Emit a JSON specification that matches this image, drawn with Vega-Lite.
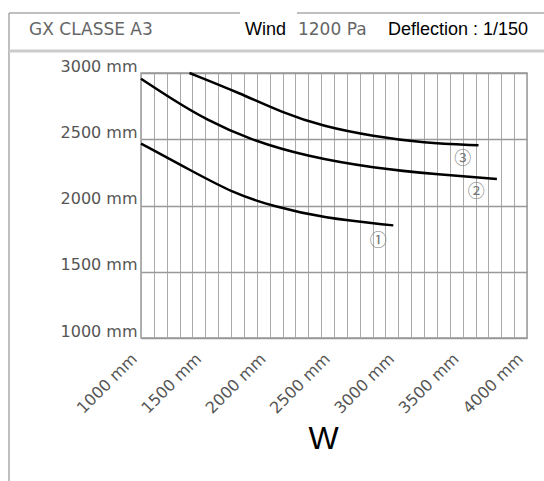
{
  "$schema": "https://vega.github.io/schema/vega-lite/v6.json",
  "autosize": {"type": "none"},
  "padding": {"left": 141, "top": 73, "right": 17, "bottom": 143},
  "width": 386,
  "height": 265,
  "background": "white",
  "config": {
    "view": {"stroke": "#999", "strokeWidth": 1.5},
    "axis": {"labelFont": "DejaVu Sans", "labelFontSize": 16, "labelColor": "#555", "ticks": false, "domain": false}
  },
  "encoding": {
    "x": {
      "field": "x", "type": "quantitative",
      "scale": {"domain": [1000, 4000], "nice": false, "zero": false},
      "axis": {
        "values": [1000,1100,1200,1300,1400,1500,1600,1700,1800,1900,2000,2100,2200,2300,2400,2500,2600,2700,2800,2900,3000,3100,3200,3300,3400,3500,3600,3700,3800,3900,4000],
        "labelExpr": "datum.value % 500 === 0 ? datum.value + ' mm' : ''",
        "labelAngle": -45, "labelAlign": "right", "labelBaseline": "middle", "labelPadding": 18,
        "labelOffset": -7,
        "labelOverlap": false,
        "gridColor": "#aaa", "gridWidth": 1,
        "title": "W", "titleFont": "Liberation Sans", "titleFontSize": 32, "titleFontWeight": "normal", "titleColor": "#000",
        "titleX": 182, "titleY": 110, "titleAlign": "center", "titleBaseline": "alphabetic", "titleAngle": 0
      }
    },
    "y": {
      "field": "y", "type": "quantitative",
      "scale": {"domain": [1000, 3000], "nice": false, "zero": false},
      "axis": {
        "values": [1000, 1500, 2000, 2500, 3000],
        "labelExpr": "datum.value + ' mm'",
        "labelPadding": 4, "labelBaseline": "alphabetic", "labelOffset": -2,
        "gridColor": "#999", "gridWidth": 1.5,
        "title": null
      }
    }
  },
  "layer": [
    {
      "data": {"values": [
        {"series": "3", "x": 1377, "y": 3000},
        {"series": "3", "x": 1766, "y": 2849},
        {"series": "3", "x": 2104, "y": 2698},
        {"series": "3", "x": 2415, "y": 2597},
        {"series": "3", "x": 2805, "y": 2522},
        {"series": "3", "x": 3194, "y": 2472},
        {"series": "3", "x": 3623, "y": 2454},
        {"series": "2", "x": 1000, "y": 2957},
        {"series": "2", "x": 1247, "y": 2799},
        {"series": "2", "x": 1506, "y": 2648},
        {"series": "2", "x": 1844, "y": 2497},
        {"series": "2", "x": 2286, "y": 2371},
        {"series": "2", "x": 2805, "y": 2283},
        {"series": "2", "x": 3324, "y": 2233},
        {"series": "2", "x": 3766, "y": 2200},
        {"series": "1", "x": 1000, "y": 2467},
        {"series": "1", "x": 1377, "y": 2270},
        {"series": "1", "x": 1714, "y": 2094},
        {"series": "1", "x": 2026, "y": 1994},
        {"series": "1", "x": 2415, "y": 1906},
        {"series": "1", "x": 2961, "y": 1850}
      ]},
      "mark": {"type": "line", "color": "#000", "strokeWidth": 2.5, "interpolate": "basis", "clip": false},
      "encoding": {"detail": {"field": "series", "type": "nominal"}}
    },
    {
      "data": {"values": [
        {"label": "③", "x": 3501, "y": 2353},
        {"label": "②", "x": 3605, "y": 2099},
        {"label": "①", "x": 2844, "y": 1729}
      ]},
      "mark": {"type": "text", "font": "Noto Sans CJK JP", "fontSize": 17, "color": "#777", "align": "center", "baseline": "middle"},
      "encoding": {"text": {"field": "label"}}
    },
    {
      "data": {"values": [
        {"x": -26, "x2": 1769, "y": 3453, "y2": 3453},
        {"x": 2212, "x2": 4140, "y": 3453, "y2": 3453},
        {"x": -26, "x2": -26, "y": 3453, "y2": -80}
      ]},
      "mark": {"type": "rule", "color": "#aaa", "strokeWidth": 1.5},
      "encoding": {"x2": {"field": "x2"}, "y2": {"field": "y2"}}
    },
    {
      "data": {"values": [
        {"x": -26, "x2": 4140, "y": 3166, "y2": 3166}
      ]},
      "mark": {"type": "rule", "color": "#ccc", "strokeWidth": 3},
      "encoding": {"x2": {"field": "x2"}, "y2": {"field": "y2"}}
    },
    {
      "data": {"values": [
        {"label": "GX CLASSE A3", "x": 130, "y": 3287},
        {"label": "1200 Pa", "x": 2220, "y": 3287}
      ]},
      "mark": {"type": "text", "font": "DejaVu Sans", "fontSize": 17, "color": "#666", "align": "left", "baseline": "alphabetic"},
      "encoding": {"text": {"field": "label"}}
    },
    {
      "data": {"values": [
        {"label": "Wind", "x": 1808, "y": 3287},
        {"label": "Deflection : 1/150", "x": 2920, "y": 3287}
      ]},
      "mark": {"type": "text", "font": "Liberation Sans", "fontSize": 18, "color": "#000", "align": "left", "baseline": "alphabetic"},
      "encoding": {"text": {"field": "label"}}
    }
  ]
}
